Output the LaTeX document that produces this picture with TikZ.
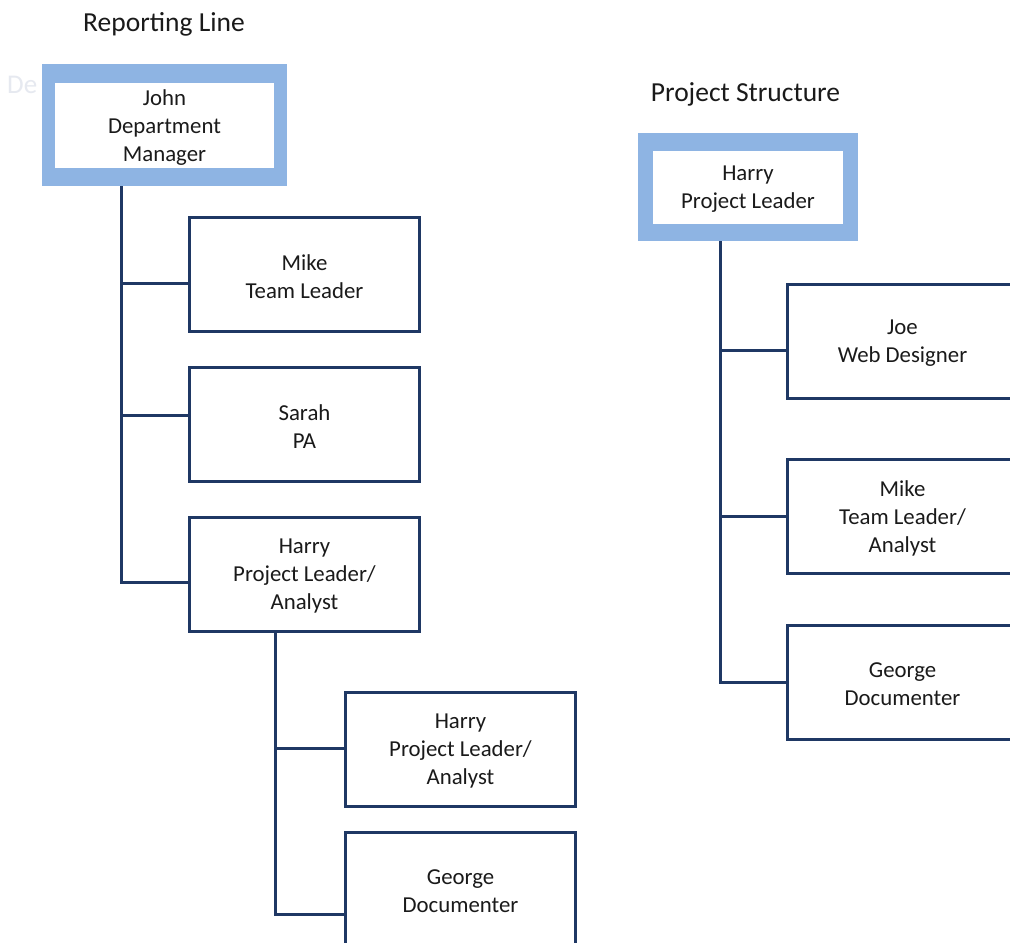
\documentclass[tikz,border=0pt]{standalone}
\usepackage{fontspec}
\setmainfont{Carlito}
\definecolor{navy}{HTML}{1F3864}
\definecolor{lblue}{HTML}{8EB4E3}
\definecolor{txt}{HTML}{1A1A1A}
\definecolor{faint}{HTML}{E6E9F0}
\begin{document}
\begin{tikzpicture}[x=1pt,y=-1pt,
  conn/.style={draw=navy,line width=3pt},
  lbl/.style={inner sep=0,align=center,text=txt,font=\fontsize{22.8}{28}\selectfont,yshift=-2pt},
  box/.style={draw=navy,line width=3pt,fill=white,minimum width=230,minimum height=114,inner sep=0,label={[lbl]center:#1}},
  outerbox/.style={fill=lblue,inner sep=0},
  innerbox/.style={fill=white,inner sep=0,label={[lbl]center:#1}},
  title/.style={text=txt,font=\fontsize{27.5}{33}\selectfont,inner sep=0,anchor=base}]
\useasboundingbox (0,0) rectangle (1010,943);
\clip (0,0) rectangle (1010,943);
\fill[white] (0,0) rectangle (1010,943);

% titles
\node[title] (t1) at (164,31) {Reporting Line};
\node[title] (t2) at (745.5,101) {Project Structure};
\node[anchor=west,text=faint,font=\fontsize{27}{33}\selectfont,inner sep=0] (ghost) at (7,85) {De};

% helper coordinates
\coordinate (jx) at (121,0);
\coordinate (hx) at (275,0);
\coordinate (px) at (720,0);
\coordinate (b1) at (0,283);
\coordinate (b2) at (0,415);
\coordinate (b3) at (0,582);
\coordinate (b4) at (0,748);
\coordinate (b5) at (0,914);
\coordinate (b6) at (0,350);
\coordinate (b7) at (0,516);
\coordinate (b8) at (0,682);

% top boxes
\node[outerbox,minimum width=245,minimum height=122] (john) at (164.5,125) {};
\node[innerbox={John\\Department\\Manager},minimum width=219,minimum height=85] (johnin) at (164.5,125.5) {};
\node[outerbox,minimum width=220,minimum height=108] (harrypl) at (748,187) {};
\node[innerbox={Harry\\Project Leader},minimum width=190,minimum height=73] (harryplin) at (748,187.5) {};

% child boxes
\node[box={Mike\\Team Leader}] (mike1) at (304.5,274.5) {};
\node[box={Sarah\\PA}] (sarah) at (304.5,424.5) {};
\node[box={Harry\\Project Leader/\\Analyst}] (harry1) at (304.5,574) {};
\node[box={Harry\\Project Leader/\\Analyst}] (harry2) at (460.5,749.5) {};
\node[box={George\\Documenter}] (george1) at (460.5,889) {};
\node[box={Joe\\Web Designer}] (joe) at (902.5,341.5) {};
\node[box={Mike\\Team Leader/\\Analyst}] (mike2) at (902.5,516.5) {};
\node[box={George\\Documenter}] (george2) at (902.5,682) {};

% connectors
\draw[conn] (john.south -| jx) |- (harry1.west |- b3);
\draw[conn] (jx |- b1) -- (mike1.west |- b1);
\draw[conn] (jx |- b2) -- (sarah.west |- b2);

\draw[conn] (harry1.south -| hx) |- (george1.west |- b5);
\draw[conn] (hx |- b4) -- (harry2.west |- b4);

\draw[conn] (harrypl.south -| px) |- (george2.west |- b8);
\draw[conn] (px |- b6) -- (joe.west |- b6);
\draw[conn] (px |- b7) -- (mike2.west |- b7);
\end{tikzpicture}
\end{document}
